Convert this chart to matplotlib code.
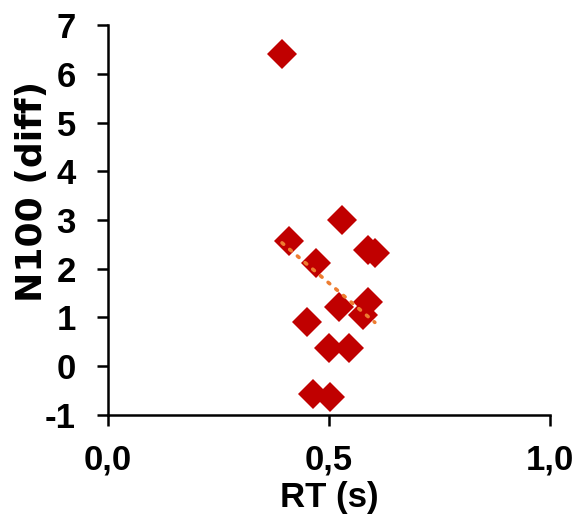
import numpy as np
import matplotlib
matplotlib.use("Agg")
import matplotlib.pyplot as plt
from matplotlib.ticker import FuncFormatter, MultipleLocator

# RT (s) vs N100 difference
rt = [0.394, 0.41, 0.47, 0.53, 0.588, 0.604, 0.588, 0.577, 0.523, 0.45, 0.50, 0.545, 0.464, 0.502]
n100 = [6.40, 2.56, 2.11, 2.99, 2.38, 2.32, 1.31, 1.05, 1.21, 0.90, 0.37, 0.37, -0.57, -0.64]

plt.rcParams['font.family'] = ['Liberation Sans', 'DejaVu Sans']
plt.rcParams['font.weight'] = 'bold'
plt.rcParams['axes.unicode_minus'] = False

fig = plt.figure(figsize=(5.8, 5.14), dpi=100)
ax = fig.add_axes([0.186, 0.193, 0.762, 0.758])

ax.plot(rt, n100, 'D', color='#C00000', markersize=15, markeredgewidth=0, zorder=3)

# linear trendline
slope, icpt = np.polyfit(rt, n100, 1)
xs = np.array([min(rt), max(rt)])
ax.plot(xs, slope * xs + icpt, linestyle=(0, (0.6, 2.2)), color='#ED7D31',
        linewidth=2.6, dash_capstyle='round', zorder=4)

ax.set_xlim(0, 1)
ax.set_ylim(-1, 7)
ax.xaxis.set_major_locator(MultipleLocator(0.5))
ax.yaxis.set_major_locator(MultipleLocator(1))
ax.xaxis.set_major_formatter(FuncFormatter(lambda v, p: ('%.1f' % v).replace('.', ',')))

for s in ['top', 'right']:
    ax.spines[s].set_visible(False)
for s in ['left', 'bottom']:
    ax.spines[s].set_linewidth(1.8)
ax.tick_params(direction='out', length=8, width=1.8, labelsize=25)
ax.tick_params(axis='y', pad=15)
ax.tick_params(axis='x', pad=13)
ax.set_xlabel('RT (s)', fontsize=25, fontweight='bold', labelpad=3)
ax.set_ylabel('N100 (diff)', fontsize=26, fontweight='bold', family='DejaVu Sans')
ax.yaxis.set_label_coords(-0.133, 0.574)

fig.savefig('out.png', dpi=100)
